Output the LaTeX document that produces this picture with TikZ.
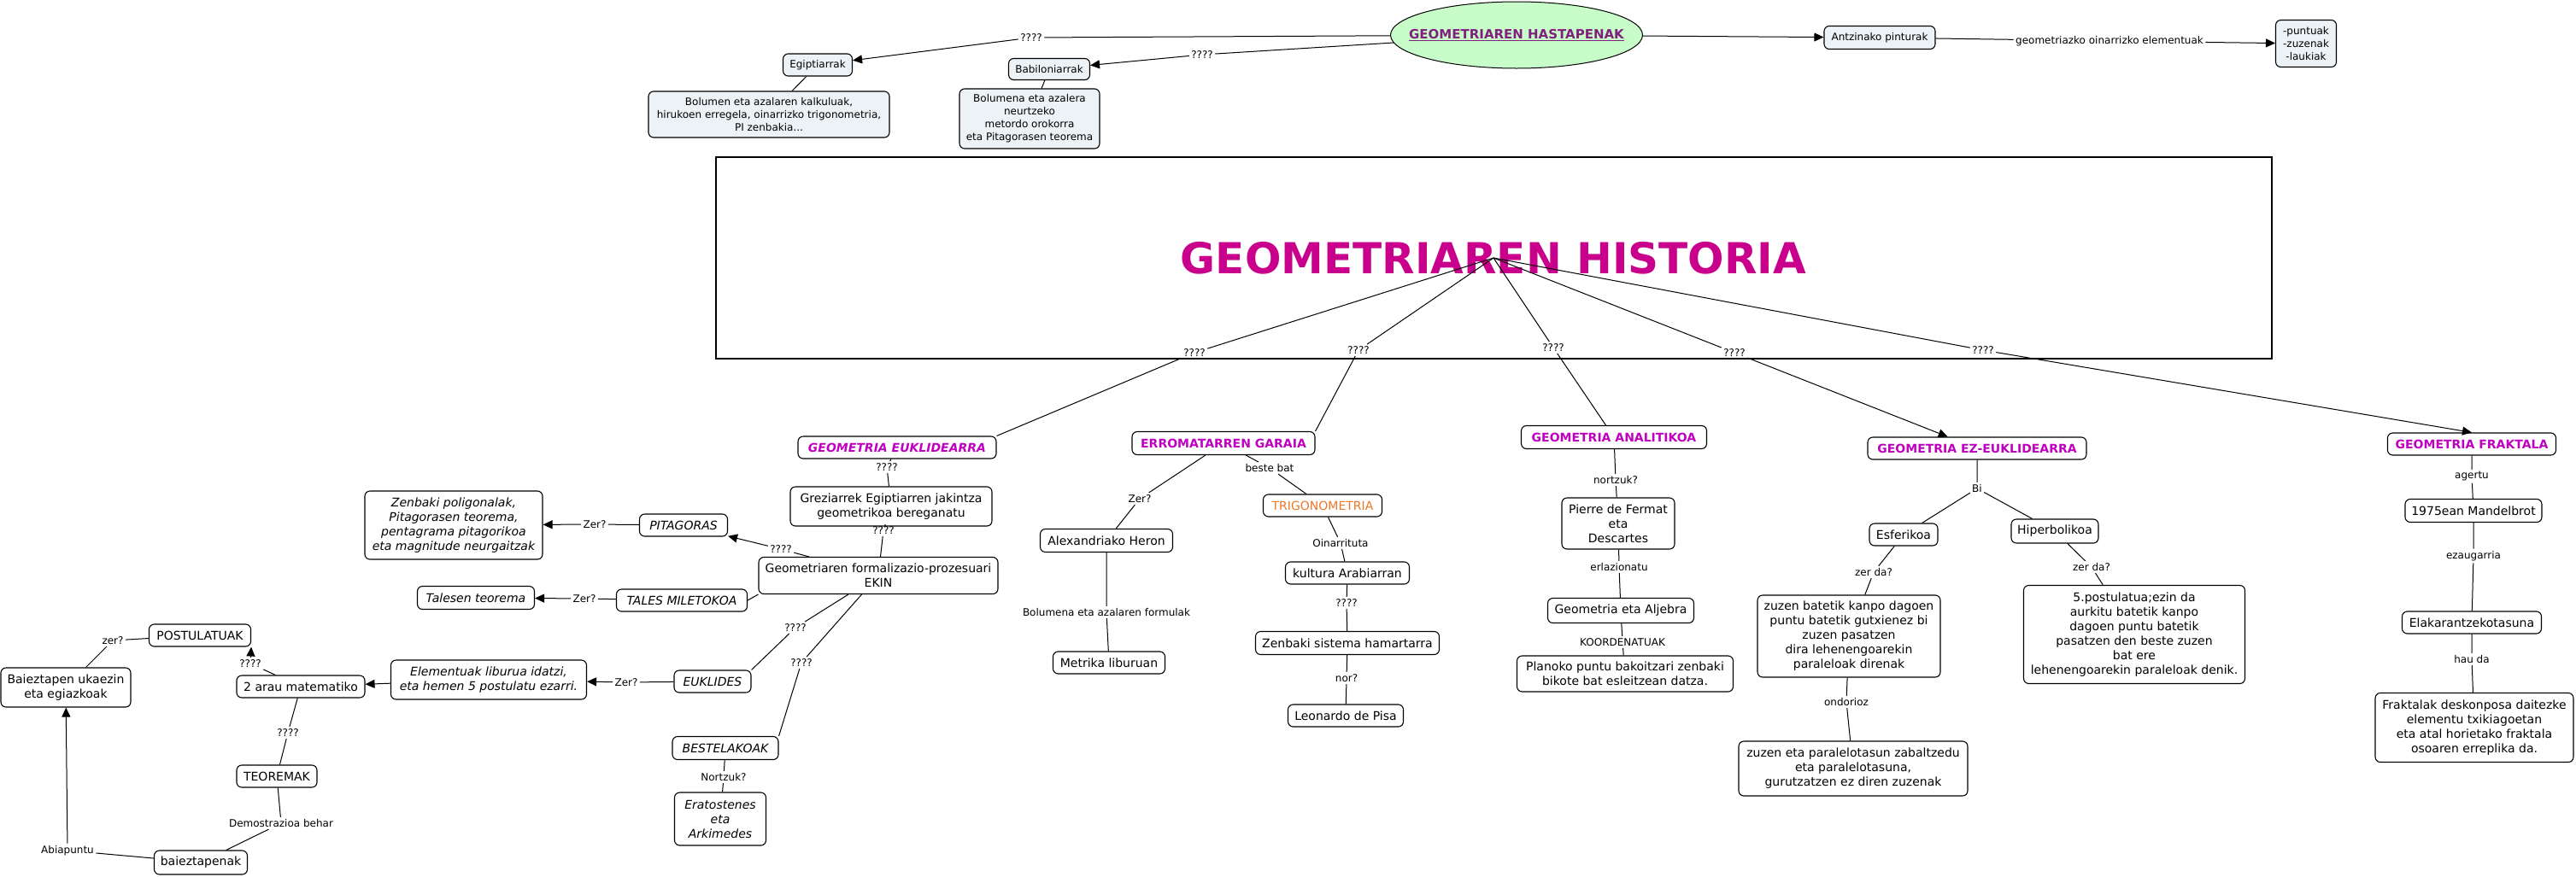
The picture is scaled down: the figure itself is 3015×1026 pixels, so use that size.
\documentclass[tikz,border=0pt]{standalone}
\usepackage{fontspec}
\setmainfont{DejaVu Sans}
\usetikzlibrary{arrows.meta,shapes.geometric}
\definecolor{titlec}{HTML}{C8008C}
\definecolor{headc}{HTML}{C000C0}
\definecolor{hastc}{HTML}{80207F}
\definecolor{hastfill}{HTML}{C8FCC8}
\definecolor{topfill}{HTML}{ECF2F5}
\definecolor{trigc}{HTML}{EB7828}
\begin{document}
\begin{tikzpicture}[x=1pt,y=-1pt,line width=1pt,
  every node/.style={align=center},
  cbox/.style={draw,rounded corners=6pt,line width=1.1pt,fill=white,inner sep=1pt,font=\fontsize{14}{17}\selectfont},
  ibox/.style={cbox,font=\fontsize{14}{17}\selectfont\itshape},
  topbox/.style={cbox,fill=topfill,font=\fontsize{12}{15}\selectfont},
  headbox/.style={cbox,text=headc,font=\fontsize{14}{17}\selectfont\bfseries},
  lbl/.style={inner sep=2pt,font=\fontsize{12}{14}\selectfont},
  arr/.style={-{Triangle[length=11pt,width=10pt]}},
  sz/.style 2 args={minimum width=#1,minimum height=#2}]
\useasboundingbox (0,0) rectangle (3015,1026);
% hastapenak
\node[ellipse,draw,fill=hastfill,sz={295}{78},inner xsep=-30pt,inner ysep=0pt,text=hastc,font=\fontsize{15}{18}\selectfont\bfseries] (hast) at (1775,41) {\underline{GEOMETRIAREN HASTAPENAK}};
\node[topbox,sz={81}{26}] (egip) at (957,76) {Egiptiarrak};
\node[topbox,sz={282}{54}] (egipd) at (900,134) {Bolumen eta azalaren kalkuluak,\\hirukoen erregela, oinarrizko trigonometria,\\PI zenbakia...};
\node[topbox,sz={95}{25}] (babil) at (1228,81) {Babiloniarrak};
\node[topbox,sz={164}{70}] (babild) at (1205,139) {Bolumena eta azalera\\neurtzeko\\metordo orokorra\\eta Pitagorasen teorema};
\node[topbox,sz={130}{27}] (antz) at (2200,44) {Antzinako pinturak};
\node[topbox,sz={71}{55}] (punt) at (2699,51) {-puntuak\\-zuzenak\\-laukiak};
\node[lbl] (q1) at (1207,44) {????};
\node[lbl] (q2) at (1407,64) {????};
\node[lbl] (geoel) at (2469,48) {geometriazko oinarrizko elementuak};
\draw[arr] (hast) -- (q1) -- (egip);
\draw[arr] (hast) -- (q2) -- (babil);
\draw[arr] (hast) -- (antz);
\draw[arr] (antz) -- (geoel) -- (punt);
\draw (egip) -- (egipd);
\draw (babil) -- (babild);
% historia
\node[draw,line width=2pt,sz={1821}{236},text=titlec,font=\fontsize{50}{54}\selectfont\bfseries] (title) at (1748,302) {GEOMETRIAREN HISTORIA};
\node[headbox,sz={232}{26},font=\fontsize{14}{17}\selectfont\bfseries\itshape] (eukl) at (1050,524) {GEOMETRIA EUKLIDEARRA};
\node[headbox,sz={214}{27}] (erro) at (1432,519) {ERROMATARREN GARAIA};
\node[headbox,sz={217}{27}] (anal) at (1889,512) {GEOMETRIA ANALITIKOA};
\node[headbox,sz={256}{26}] (ezeu) at (2314,525) {GEOMETRIA EZ-EUKLIDEARRA};
\node[headbox,sz={197}{26}] (frak) at (2893,520) {GEOMETRIA FRAKTALA};
\node[lbl] (qa) at (1398,413) {????};
\node[lbl] (qb) at (1590,410) {????};
\node[lbl] (qc) at (1818,407) {????};
\node[lbl] (qd) at (2030,413) {????};
\node[lbl] (qe) at (2321,410) {????};
\draw (title.center) -- (qa) -- (eukl.north east);
\draw (title.center) -- (qb) -- (erro.north east);
\draw (title.center) -- (qc) -- (anal);
\draw[arr] (title.center) -- (qd) -- (ezeu);
\draw[arr] (title.center) -- (qe) -- (frak.north);
% euklidearra
\node[cbox,sz={236}{46}] (grez) at (1043,593) {Greziarrek Egiptiarren jakintza\\geometrikoa bereganatu};
\node[cbox,sz={280}{43}] (form) at (1028,674) {Geometriaren formalizazio-prozesuari\\EKIN};
\node[ibox,sz={103}{26}] (pit) at (800,615) {PITAGORAS};
\node[ibox,sz={208}{80}] (zenb) at (531,615) {Zenbaki poligonalak,\\Pitagorasen teorema,\\pentagrama pitagorikoa\\eta magnitude neurgaitzak};
\node[ibox,sz={153}{26}] (tal) at (798,703) {TALES MILETOKOA};
\node[ibox,sz={137}{27}] (talt) at (557,700) {Talesen teorema};
\node[ibox,sz={90}{26}] (euk) at (834,798) {EUKLIDES};
\node[ibox,sz={229}{46}] (elem) at (572,796) {Elementuak liburua idatzi,\\eta hemen 5 postulatu ezarri.};
\node[cbox,sz={150}{26}] (arau) at (352,804) {2 arau matematiko};
\node[cbox,sz={119}{26}] (post) at (234,744) {POSTULATUAK};
\node[cbox,sz={152}{46}] (baie) at (77,805) {Baieztapen ukaezin\\eta egiazkoak};
\node[cbox,sz={94}{26}] (teor) at (324,909) {TEOREMAK};
\node[cbox,sz={109}{28}] (baiez) at (235,1010) {baieztapenak};
\node[ibox,sz={124}{27}] (best) at (849,876) {BESTELAKOAK};
\node[ibox,sz={107}{62}] (era) at (843,959) {Eratostenes\\eta\\Arkimedes};
\node[lbl] (qf) at (1038,547) {????};
\node[lbl] (qg) at (1034,621) {????};
\node[lbl] (qh) at (914,643) {????};
\node[lbl] (qi) at (696,614) {Zer?};
\node[lbl] (qj) at (684,701) {Zer?};
\node[lbl] (qk) at (931,735) {????};
\node[lbl] (ql) at (733,799) {Zer?};
\node[lbl] (qm) at (293,777) {????};
\node[lbl] (qn) at (132,750) {zer?};
\node[lbl] (qo) at (337,858) {????};
\node[lbl] (qp) at (329,964) {Demostrazioa behar};
\node[lbl] (qq) at (79,996) {Abiapuntu};
\node[lbl] (qr) at (938,776) {????};
\node[lbl] (qs) at (847,910) {Nortzuk?};
\draw (eukl) -- (qf) -- (grez);
\draw (grez) -- (qg) -- (form);
\draw[arr] (form) -- (qh) -- (pit);
\draw[arr] (pit) -- (qi) -- (zenb);
\draw (tal.east) -- (form.south west);
\draw[arr] (tal) -- (qj) -- (talt);
\draw (form) -- (qk) -- (euk.north east);
\draw[arr] (euk) -- (ql) -- (elem);
\draw[arr] (elem) -- (arau);
\draw[arr] (arau) -- (qm) -- (post.south east);
\draw (post) -- (qn) -- (baie);
\draw (arau) -- (qo) -- (teor);
\draw (teor) -- (qp) -- (baiez);
\draw[arr] (baiez) -- (qq) -- (baie);
\draw (form) -- (qr) -- (best.north east);
\draw (best) -- (qs) -- (era);
% erromatarrak
\node[cbox,sz={155}{27}] (heron) at (1295,633) {Alexandriako Heron};
\node[cbox,sz={131}{26}] (metr) at (1298,776) {Metrika liburuan};
\node[cbox,sz={139}{26},text=trigc] (trig) at (1548,592) {TRIGONOMETRIA};
\node[cbox,sz={145}{26}] (kult) at (1577,671) {kultura Arabiarran};
\node[cbox,sz={215}{27}] (zsh) at (1577,753) {Zenbaki sistema hamartarra};
\node[cbox,sz={135}{26}] (leon) at (1575,838) {Leonardo de Pisa};
\node[lbl] (qt) at (1334,584) {Zer?};
\node[lbl] (qu) at (1295,717) {Bolumena eta azalaren formulak};
\node[lbl] (qv) at (1486,548) {beste bat};
\node[lbl] (qw) at (1569,636) {Oinarrituta};
\node[lbl] (qx) at (1576,706) {????};
\node[lbl] (qy) at (1576,794) {nor?};
\draw (erro) -- (qt) -- (heron);
\draw (heron) -- (qu) -- (metr);
\draw (erro) -- (qv) -- (trig);
\draw (trig) -- (qw) -- (kult);
\draw (kult) -- (qx) -- (zsh);
\draw (zsh) -- (qy) -- (leon);
% analitikoa
\node[cbox,sz={132}{60}] (pier) at (1894,613) {Pierre de Fermat\\eta\\Descartes};
\node[cbox,sz={171}{29}] (alj) at (1897,715) {Geometria eta Aljebra};
\node[cbox,sz={253}{42}] (plan) at (1902,789) {Planoko puntu bakoitzari zenbaki\\bikote bat esleitzean datza.};
\node[lbl] (qz) at (1891,562) {nortzuk?};
\node[lbl] (qA) at (1895,664) {erlazionatu};
\node[lbl] (qB) at (1899,752) {KOORDENATUAK};
\draw (anal) -- (qz) -- (pier);
\draw (pier) -- (qA) -- (alj);
\draw (alj) -- (qB) -- (plan);
% ez-euklidearra
\node[cbox,sz={80}{26}] (esf) at (2228,626) {Esferikoa};
\node[cbox,sz={102}{28}] (hip) at (2405,622) {Hiperbolikoa};
\node[cbox,sz={214}{96}] (zuz1) at (2164,745) {zuzen batetik kanpo dagoen\\puntu batetik gutxienez bi\\zuzen pasatzen\\dira lehenengoarekin\\paraleloak direnak};
\node[cbox,sz={268}{64}] (zuz2) at (2169,900) {zuzen eta paralelotasun zabaltzedu\\eta paralelotasuna,\\gurutzatzen ez diren zuzenak};
\node[cbox,sz={259}{115}] (post5) at (2498,743) {5.postulatua;ezin da\\aurkitu batetik kanpo\\dagoen puntu batetik\\pasatzen den beste zuzen\\bat ere\\lehenengoarekin paraleloak denik.};
\node[lbl] (qC) at (2314,572) {Bi};
\node[lbl] (qD) at (2193,670) {zer da?};
\node[lbl] (qE) at (2161,822) {ondorioz};
\node[lbl] (qF) at (2448,664) {zer da?};
\draw (ezeu) -- (qC) -- (esf);
\draw (qC) -- (hip);
\draw (esf) -- (qD) -- (zuz1);
\draw (zuz1) -- (qE) -- (zuz2);
\draw (hip) -- (qF) -- (post5);
% fraktala
\node[cbox,sz={160}{27}] (mand) at (2895,598) {1975ean Mandelbrot};
\node[cbox,sz={163}{26}] (elak) at (2893,729) {Elakarantzekotasuna};
\node[cbox,sz={232}{81}] (frakd) at (2896,852) {Fraktalak deskonposa daitezke\\elementu txikiagoetan\\eta atal horietako fraktala\\osoaren erreplika da.};
\node[lbl] (qG) at (2893,558) {agertu};
\node[lbl] (qH) at (2895,651) {ezaugarria};
\node[lbl] (qI) at (2893,772) {hau da};
\draw (frak) -- (qG) -- (mand);
\draw (mand) -- (qH) -- (elak);
\draw (elak) -- (qI) -- (frakd);
\end{tikzpicture}
\end{document}
